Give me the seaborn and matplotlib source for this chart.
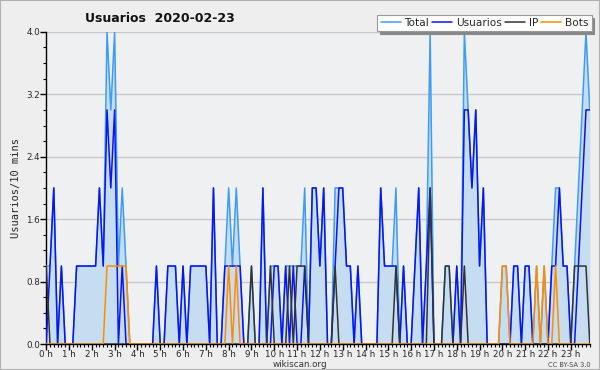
import numpy as np
import pandas as pd
import matplotlib
matplotlib.use("Agg")
import matplotlib.pyplot as plt
from matplotlib.lines import Line2D
from matplotlib.patches import Rectangle
from matplotlib.ticker import MultipleLocator
import seaborn as sns

# ---- data (one value per 10-minute slot, 144 slots) ----
usuarios = [0,1,2,0,1,0,0,0,1,1, 1,1,1,1,2,1,3,2,3,0,
            1,0,0,0,0,0,0,0,0,1, 0,0,1,1,1,0,1,0,1,1,
            1,1,1,0,2,0,0,1,1,1, 1,1,0,0,0,0,0,2,0,0,
            1,1,0,1,0,1,0,0,1,0, 2,2,1,2,0,0,1,2,2,1,
            1,0,1,0,0,0,0,0,2,1, 1,1,1,0,1,0,0,1,2,0,
            1,2,0,0,0,0,0,0,1,0, 3,3,2,3,1,2,0,0,0,0,
            0,0,0,1,1,0,1,1,0,0, 0,0,0,1,1,2,1,1,0,0,
            1,2,3,3]
ip = [1,0,0,0,0,0,0,0,0,0, 0,0,0,0,0,0,0,0,0,0,
      0,0,0,0,0,0,0,0,0,0, 0,0,0,0,0,0,0,0,0,0,
      0,0,0,0,0,0,0,0,0,0, 0,0,0,0,1,0,0,0,0,1,
      0,0,0,0,1,0,1,1,1,0, 0,0,0,0,0,0,1,0,0,0,
      0,0,0,0,0,0,0,0,0,0, 0,0,1,0,0,0,0,0,0,0,
      0,2,0,0,0,1,1,0,0,0, 1,0,0,0,0,0,0,0,0,0,
      0,0,0,0,0,0,0,0,0,0, 0,0,0,0,0,0,0,0,0,1,
      1,1,1,0]
bots = [0,0,0,0,0,0,0,0,0,0, 0,0,0,0,0,0,1,1,1,1,
        1,1,0,0,0,0,0,0,0,0, 0,0,0,0,0,0,0,0,0,0,
        0,0,0,0,0,0,0,0,1,0, 1,0,0,0,0,0,0,0,0,0,
        0,0,0,0,0,0,0,0,0,0, 0,0,0,0,0,0,0,0,0,0,
        0,0,0,0,0,0,0,0,0,0, 0,0,0,0,0,0,0,0,0,0,
        0,0,0,0,0,0,0,0,0,0, 0,0,0,0,0,0,0,0,0,0,
        1,1,0,0,0,0,0,0,0,1, 0,1,0,0,1,0,0,0,0,0,
        0,0,0,0]
total = [1,1,2,0,1,0,0,0,1,1, 1,1,1,1,2,1,4,3,4,1,
         2,1,0,0,0,0,0,0,0,1, 0,0,1,1,1,0,1,0,1,1,
         1,1,1,0,2,0,0,1,2,1, 2,1,0,0,1,0,0,2,0,1,
         1,1,0,1,1,1,1,1,2,0, 2,2,1,2,0,0,2,2,2,1,
         1,0,1,0,0,0,0,0,2,1, 1,1,2,0,1,0,0,1,2,0,
         1,4,0,0,0,1,1,0,1,0, 4,3,2,3,1,2,0,0,0,0,
         1,1,0,1,1,0,1,1,0,1, 0,1,0,1,2,2,1,1,0,1,
         2,3,4,3]
hour_labels = [f"{h} h" for h in range(24)]
y_ticks = [0.0, 0.8, 1.6, 2.4, 3.2, 4.0]
series_names = ["Total", "Usuarios", "IP", "Bots"]
series_colors = ["#3d9cf5", "#0a14f5", "#333333", "#ff8c00"]

slots = np.arange(len(total))
df = pd.DataFrame({"slot": slots, "Total": total, "Usuarios": usuarios,
                   "IP": ip, "Bots": bots})

sns.set_theme(style="white")
plt.rcParams["font.family"] = ["DejaVu Sans"]

fig = plt.figure(figsize=(6, 3.7), dpi=100, facecolor="#eeeeee")
fig.patches.append(Rectangle((0, 0), 1, 1, transform=fig.transFigure,
                             fill=False, edgecolor="#b0b0b0", lw=1.5))
ax = fig.add_axes([0.077, 0.070, 0.906, 0.844])
ax.set_facecolor("#eff0f2")

ax.fill_between(df["slot"], df["Total"], color="#c6dcf0", lw=0, zorder=1)
for name, col in zip(series_names, series_colors):
    sns.lineplot(data=df, x="slot", y=name, color=col, lw=1.1, ax=ax,
                 zorder=3, legend=False)

ax.set_xlim(0, 143)
ax.set_ylim(0, 4.0)
ax.set_xticks(np.arange(0, 144, 6))
ax.set_xticklabels(hour_labels)
ax.xaxis.set_minor_locator(MultipleLocator(1))
ax.set_yticks(y_ticks)
ax.set_yticklabels([f"{v:.1f}" for v in y_ticks])
ax.yaxis.set_minor_locator(MultipleLocator(0.2))
ax.tick_params(axis="both", which="major", direction="out", length=4,
               width=1, color="black", labelsize=6.3, pad=0.5)
ax.tick_params(axis="both", which="minor", direction="out", length=2.5,
               width=0.8, color="black")
ax.tick_params(axis="x", which="both", bottom=True)
ax.tick_params(axis="y", which="both", left=True)
ax.grid(axis="y", which="major", color="#c8c8c8", lw=1, zorder=0)
ax.set_axisbelow(True)
for s in ["top", "right"]:
    ax.spines[s].set_visible(False)
for s in ["left", "bottom"]:
    ax.spines[s].set_color("black")
    ax.spines[s].set_linewidth(1)
ax.set_xlabel("")
ax.set_ylabel("Usuarios/10 mins", fontsize=7.5, family="DejaVu Sans Mono",
              labelpad=4)

fig.text(0.142, 0.950, "Usuarios  2020-02-23", fontsize=9,
         fontweight="bold", ha="left", va="center", color="#111111")
fig.text(0.5, 0.014, "wikiscan.org", fontsize=6.3, ha="center",
         va="center", color="#333333")
fig.text(0.985, 0.014, "CC BY-SA 3.0", fontsize=4.8, ha="right",
         va="center", color="#444444")

handles = [Line2D([0], [0], color=c, lw=1.1) for c in series_colors]
leg = fig.legend(handles, series_names, ncol=4, loc="upper right",
                 bbox_to_anchor=(0.986, 0.960), frameon=True, fancybox=False,
                 shadow={"color": "#888888", "alpha": 1.0}, fontsize=7.6,
                 handlelength=1.9, handletextpad=0.35, columnspacing=0.3,
                 borderpad=0.3, borderaxespad=0.0)
leg.get_frame().set_edgecolor("#999999")
leg.get_frame().set_facecolor("white")
leg.get_frame().set_linewidth(0.8)

fig.savefig("out.png", dpi=100, facecolor=fig.get_facecolor())
